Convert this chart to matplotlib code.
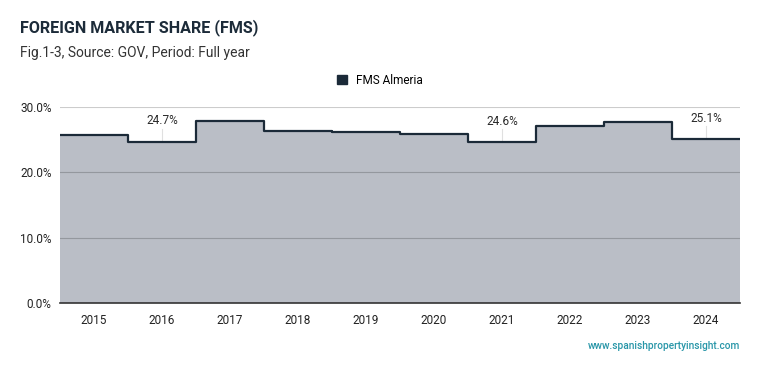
import matplotlib.pyplot as plt
import numpy as np
from matplotlib.patches import Patch

plt.rcParams['font.family'] = ['Roboto', 'DejaVu Sans']

years = ['2015', '2016', '2017', '2018', '2019', '2020', '2021', '2022', '2023', '2024']
fms = [25.7, 24.7, 27.9, 26.3, 26.1, 25.8, 24.6, 27.1, 27.7, 25.1]
labelled = ['2016', '2021', '2024']

navy = '#1b2a38'
fill = '#babec6'

fig = plt.figure(figsize=(7.59, 3.71), dpi=100)
ax = fig.add_axes([60 / 759, 68 / 371, 680 / 759, 196 / 371])

x = np.arange(len(years))
# extend the edges so the steps run to the axes edges
xs = np.concatenate([[x[0] - 0.5], x, [x[-1] + 0.5]])
ys = np.concatenate([[fms[0]], fms, [fms[-1]]])
ax.fill_between(xs, ys, step='mid', color=fill, lw=0, zorder=1)
ax.step(xs, ys, where='mid', color=navy, lw=1.6, zorder=3)

ax.set_xlim(-0.5, len(years) - 0.5)
ax.set_ylim(0, 30)
ax.set_yticks([0, 10, 20, 30])
ax.set_yticklabels(['%.1f%%' % v for v in [0, 10, 20, 30]])
ax.set_xticks(x)
ax.set_xticklabels(years)
ax.tick_params(length=0, labelsize=8.5, colors='#222222')
ax.tick_params(axis='x', pad=8)
ax.tick_params(axis='y', pad=6)
ax.yaxis.grid(True, color='black', alpha=0.2, lw=0.8, zorder=2)
ax.set_axisbelow(False)
for s in ['left', 'right', 'top']:
    ax.spines[s].set_visible(False)
ax.spines['bottom'].set_color('#333333')
ax.spines['bottom'].set_linewidth(1.2)
ax.spines['bottom'].set_zorder(4)

for yr in labelled:
    i = years.index(yr)
    v = fms[i]
    ax.plot([i, i], [v + 0.2, v + 2.0], color='#e0e0e0', lw=0.8, zorder=2)
    ax.text(i, v + 2.2, '%.1f%%' % v, ha='center', va='bottom', fontsize=8.5, color='#2a2a2a', zorder=4)

fig.text(20 / 759, 1 - 28 / 371, 'FOREIGN MARKET SHARE (FMS)', fontsize=11.6, fontweight='bold',
         color='#1c2b39', va='center')
fig.text(20 / 759, 1 - 53 / 371, 'Fig.1-3, Source: GOV, Period: Full year', fontsize=10,
         color='#333333', va='center')

fig.legend(handles=[Patch(color=navy, label='FMS Almeria')], loc='center',
           bbox_to_anchor=(380 / 759, 1 - 80 / 371), frameon=False, fontsize=8.5,
           handlelength=0.8, handleheight=0.8, handletextpad=0.8)

fig.text(740 / 759, 1 - 346 / 371, 'www.spanishpropertyinsight.com', fontsize=7.3,
         fontweight='medium', color='#2896a8', ha='right', va='center')

fig.savefig('out.png', dpi=100)
